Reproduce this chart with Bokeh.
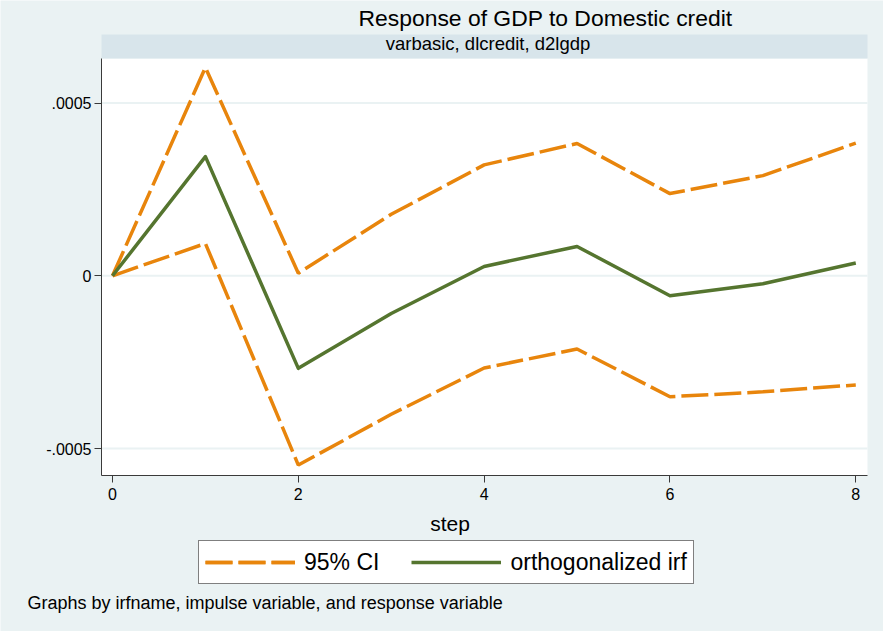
from bokeh.plotting import figure
from bokeh.models import (Range1d, FixedTicker, Label, Legend, LegendItem, ColumnDataSource, LinearAxis)
from bokeh.embed import file_html
from bokeh.resources import INLINE

# ---- data ----
steps = [0, 1, 2, 3, 4, 5, 6, 7, 8]
irf = [0.0, 0.000345, -0.000268, -0.000109, 0.000027, 0.000085, -0.000058, -0.000023, 0.000037]
ci_upper = [0.0, 0.000603, 0.0000075, 0.000178, 0.000321, 0.000383, 0.000238, 0.000290, 0.000384]
ci_lower = [0.0, 0.0000935, -0.000548, -0.000401, -0.000267, -0.000212, -0.000350, -0.000336, -0.000316]

x_ticks = [0, 2, 4, 6, 8]
y_ticks = [-0.0005, 0.0, 0.0005]
y_tick_labels = ["-.0005", "0", ".0005"]

title_text = "Response of GDP to Domestic credit"
subtitle_text = "varbasic, dlcredit, d2lgdp"
x_title = "step"
legend_labels = ["95% CI", "orthogonalized irf"]
note_text = "Graphs by irfname, impulse variable, and response variable"

# ---- style ----
FONT = "Liberation Sans"
BG = "#eaf2f3"
STRIP = "#d8e5eb"
ORANGE = "#e8850c"
GREEN = "#55752f"
AXIS = "#3a3a3a"

W, H = 883, 631

# whole canvas is the frame; ranges chosen so that the plot region sits where it should
x_start, x_end = -1.2055, 8.2983
y_start, y_end = -0.0010298, 0.000797
plot_left, plot_right = -0.1184, 8.126
plot_bottom, plot_top = -0.000578, 0.000629
strip_top = 0.0006986

p = figure(width=W, height=H, output_backend="svg", toolbar_location=None,
           x_range=Range1d(x_start, x_end), y_range=Range1d(y_start, y_end),
           x_axis_location=None, y_axis_location=None,
           min_border=0, min_border_left=0, min_border_right=0, min_border_top=0, min_border_bottom=0,
           background_fill_color=BG, border_fill_color=BG, outline_line_color=None)
p.grid.visible = False

# plot region and header strip
p.quad(left=[plot_left], right=[plot_right], bottom=[plot_bottom], top=[plot_top],
       fill_color="white", line_color=None)
p.quad(left=[plot_left], right=[plot_right], bottom=[plot_top], top=[strip_top],
       fill_color=STRIP, line_color=None)

# horizontal grid lines at the y ticks
p.segment(x0=[plot_left] * len(y_ticks), x1=[plot_right] * len(y_ticks), y0=y_ticks, y1=y_ticks,
          line_color=BG, line_width=2)

# axes
xaxis = LinearAxis(fixed_location=plot_bottom, ticker=FixedTicker(ticks=x_ticks),
                   bounds=(plot_left, plot_right))
yaxis = LinearAxis(fixed_location=plot_left, ticker=FixedTicker(ticks=y_ticks),
                   bounds=(plot_bottom, plot_top),
                   major_label_overrides={t: l for t, l in zip(y_ticks, y_tick_labels)})
for ax in (xaxis, yaxis):
    ax.axis_line_color = AXIS
    ax.axis_line_width = 1
    ax.major_tick_line_color = AXIS
    ax.major_tick_in = 0
    ax.major_tick_out = 7
    ax.minor_tick_line_color = None
    ax.major_label_text_font = FONT
    ax.major_label_text_font_size = "16px"
    ax.major_label_text_color = "black"
xaxis.major_label_standoff = 6
yaxis.major_label_standoff = 3
yaxis.major_label_orientation = "horizontal"
p.add_layout(xaxis, "below")
p.add_layout(yaxis, "left")

src = ColumnDataSource(dict(step=steps, irf=irf, up=ci_upper, lo=ci_lower))
dash = "27 6"
r_up = p.line("step", "up", source=src, line_color=ORANGE, line_width=3.5, line_dash=dash)
r_lo = p.line("step", "lo", source=src, line_color=ORANGE, line_width=3.5, line_dash=dash)
r_irf = p.line("step", "irf", source=src, line_color=GREEN, line_width=3.5, line_join="round")

legend = Legend(items=[LegendItem(label=legend_labels[0], renderers=[r_up, r_lo]),
                       LegendItem(label=legend_labels[1], renderers=[r_irf])],
                orientation="horizontal", location=(198, 47),
                label_text_font=FONT, label_text_font_size="23px", label_text_color="black",
                glyph_width=90, glyph_height=30, label_height=30, label_standoff=9,
                spacing=32, padding=6, margin=0,
                border_line_color="black", border_line_width=1,
                background_fill_color="white", background_fill_alpha=1.0)
p.add_layout(legend, "center")

def lab(text, x, y, size, align="center"):
    p.add_layout(Label(text=text, x=x, y=y + 0.37 * size, x_units="screen", y_units="screen",
                       text_font=FONT, text_font_size=f"{size}px", text_color="black",
                       text_align=align, text_baseline="alphabetic"))

lab(title_text, 545, 605.3, 22.9)
lab(subtitle_text, 487.5, 581, 18.5)
lab(x_title, 449.5, 100, 21)
lab(note_text, 27, 21.7, 18, align="left")

open("out.html", "w").write(file_html(p, INLINE))
